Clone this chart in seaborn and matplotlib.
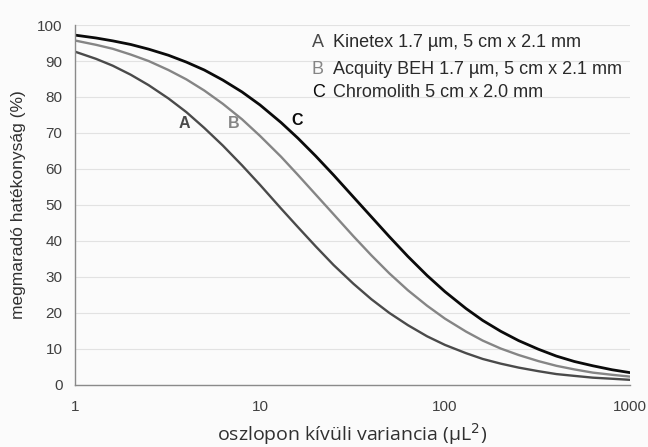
import numpy as np
import pandas as pd
import matplotlib
matplotlib.use('Agg')
import matplotlib.pyplot as plt
import matplotlib.ticker as mticker
import seaborn as sns

# --- Data ---
variance = [1, 1.3, 1.6, 2, 2.5, 3.2, 4, 5, 6.3, 8, 10, 13, 16, 20, 25, 32,
            40, 50, 63, 80, 100, 130, 160, 200, 250, 320, 400, 500, 630,
            800, 1000]
eff_a = [92.6, 90.6, 88.7, 86.2, 83.3, 79.6, 75.8, 71.4, 66.5, 61.0, 55.6,
         49.0, 43.9, 38.5, 33.3, 28.1, 23.8, 20.0, 16.6, 13.5, 11.1, 8.8,
         7.2, 5.9, 4.8, 3.8, 3.0, 2.5, 2.0, 1.7, 1.4]
eff_b = [95.7, 94.5, 93.4, 91.8, 90.0, 87.5, 84.9, 81.8, 78.1, 73.8, 69.2,
         63.4, 58.4, 52.9, 47.4, 41.3, 36.0, 31.0, 26.3, 22.0, 18.4, 14.8,
         12.3, 10.1, 8.3, 6.6, 5.3, 4.3, 3.4, 2.8, 2.3]
eff_c = [97.2, 96.4, 95.6, 94.6, 93.3, 91.6, 89.7, 87.5, 84.7, 81.4, 77.8,
         72.9, 68.6, 63.6, 58.3, 52.2, 46.7, 41.2, 35.7, 30.4, 25.9, 21.2,
         17.9, 14.9, 12.3, 9.9, 8.0, 6.5, 5.3, 4.2, 3.4]
series_names = ['A', 'B', 'C']
legend_texts = ['Kinetex 1.7 µm, 5 cm x 2.1 mm',
                'Acquity BEH 1.7 µm, 5 cm x 2.1 mm',
                'Chromolith 5 cm x 2.0 mm']
colors = {'A': '#4a4a4a', 'B': '#858585', 'C': '#0a0a0a'}
widths = {'A': 1.7, 'B': 1.7, 'C': 2.0}

df = pd.concat([
    pd.DataFrame({'variance': variance, 'eff': vals, 'column': name})
    for name, vals in zip(series_names, [eff_a, eff_b, eff_c])
])

# --- Style ---
sns.set_style('white')
plt.rcParams['font.family'] = ['Liberation Sans', 'DejaVu Sans']

fig = plt.figure(figsize=(6.48, 4.47), dpi=100, facecolor='#fbfbfb')
ax = fig.add_axes([0.1157, 0.139, 0.8565, 0.805])
ax.set_facecolor('#fbfbfb')

for name in series_names:
    sns.lineplot(data=df[df['column'] == name], x='variance', y='eff',
                 color=colors[name], linewidth=widths[name], ax=ax)

ax.set_xscale('log')
ax.set_xlim(1, 1000)
ax.set_ylim(0, 100)
ax.set_yticks(range(0, 101, 10))
ax.xaxis.set_major_locator(mticker.FixedLocator([1, 10, 100, 1000]))
ax.xaxis.set_major_formatter(mticker.FuncFormatter(lambda v, p: f'{v:g}'))
ax.xaxis.set_minor_locator(mticker.LogLocator(base=10, subs=range(2, 10)))
ax.xaxis.set_minor_formatter(mticker.NullFormatter())

ax.yaxis.grid(True, color='#e2e2e2', linewidth=0.8)
ax.set_axisbelow(True)
for side in ['top', 'right']:
    ax.spines[side].set_visible(False)
for side in ['left', 'bottom']:
    ax.spines[side].set_color('#8a8a8a')
    ax.spines[side].set_linewidth(1.0)

ax.tick_params(axis='y', which='major', direction='out', length=5,
               color='#8a8a8a', labelsize=11, labelcolor='#404040', pad=4)
ax.tick_params(axis='x', which='both', direction='out', length=4,
               color='#8a8a8a', labelsize=11, labelcolor='#404040', pad=7)

ax.set_ylabel('megmaradó hatékonyság (%)', fontsize=12.5, color='#303030',
              labelpad=8)
ax.set_xlabel('oszlopon kívüli variancia (μL$^2$)', fontsize=14,
              color='#303030', family=['Open Sans', 'DejaVu Sans'],
              labelpad=5)

# curve labels
curve_label_pos = {'A': (3.9, 72.6), 'B': (7.2, 72.6), 'C': (15.8, 73.6)}
for name in series_names:
    x, y = curve_label_pos[name]
    ax.text(x, y, name, fontsize=11.5, fontweight='bold', color=colors[name],
            ha='center', va='center')

# legend block
legend_y = [0.951, 0.877, 0.812]
for name, txt, yy in zip(series_names, legend_texts, legend_y):
    ax.text(0.427, yy, name, transform=ax.transAxes, fontsize=13,
            color=colors[name], va='center', ha='left')
    ax.text(0.465, yy, txt, transform=ax.transAxes, fontsize=13,
            color='#2a2a2a', va='center', ha='left')

plt.savefig('out.png', dpi=100, facecolor=fig.get_facecolor())
plt.close()
